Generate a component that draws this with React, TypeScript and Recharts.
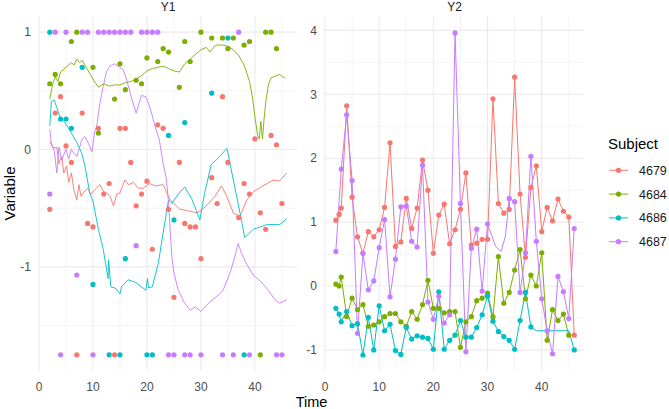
import React from 'react';
import { ComposedChart, Line, Scatter, XAxis, YAxis, CartesianGrid } from 'recharts';

const FONT = '"Liberation Sans", Arial, sans-serif';
const subjects = ['4679', '4684', '4686', '4687'];
const colors = ['#F8766D', '#7CAE00', '#00BFC4', '#C77CFF'];
const panelTitles = ['Y1', 'Y2'];
const xTicks = [0, 10, 20, 30, 40];
const xMinor = [5, 15, 25, 35, 45];
const xDomain = [0, 47.8];
const y1Ticks = [-1, 0, 1];
const y1Minor = [-1.5, -0.5, 0.5];
const y1Domain = [-1.8875, 1.1375];
const y2Ticks = [-1, 0, 1, 2, 3, 4];
const y2Minor = [-0.5, 0.5, 1.5, 2.5, 3.5];
const y2Domain = [-1.33, 4.225];

// ---------- Y1 points ----------
const y1Pts4679 = [[2,-0.51],[3,0.31],[4,0.45],[5,0.03],[6,-0.11],[7,-1.75],[8,0.31],[9,-0.63],[10,-0.66],[11,0.18],[12,-0.38],[13,-0.29],[14,-1.75],[15,0.18],[16,0.18],[17,-0.11],[18,-0.48],[19,-0.38],[20,-0.27],[21,-0.85],[22,0.21],[23,0.18],[24,-0.51],[25,-1.26],[26,-0.11],[27,-0.63],[28,-0.66],[29,-0.66],[30,-0.93],[32,-0.24],[33,-0.46],[34,0.45],[35,-0.11],[37,-0.58],[38,-0.29],[39,-0.38],[40,0.09],[41,-0.54],[42,-0.68],[43,0.12],[44,0.04],[45,-0.46]];
const y1Pts4684 = [[2,0.56],[3,0.64],[4,0.56],[6,0.92],[7,1],[10,0.70],[11,0.14],[14,0.43],[15,0.73],[16,0.51],[18,0.59],[19,0.56],[20,0.78],[22,0.75],[23,0.86],[24,0.83],[26,0.53],[27,0.92],[28,0.75],[30,1],[32,0.95],[34,0.95],[35,0.86],[36,0.95],[38,0.89],[39,0.92],[41,-1.75],[42,1],[43,1],[44,0.86]];
const y1Pts4686 = [[2,1],[4,0.26],[5,0.26],[6,0.18],[8,0.70],[10,-1.15],[13,-1.75],[15,-1.75],[16,-0.93],[20,-1.75],[21,-1.75],[24,0.12],[25,-0.60],[27,0.23],[32,0.48],[35,0.95],[38,-1.75]];
const y1Pts4687 = [[2,-0.38],[3,1],[4,-1.75],[5,1],[7,-1.07],[8,1],[9,1],[10,-1.75],[11,1],[12,1],[13,1],[14,1],[15,1],[16,1],[17,1],[18,-0.82],[19,1],[20,1],[21,1],[22,1],[24,-1.75],[25,-1.75],[27,-1.75],[28,-1.75],[30,-1.75],[34,-1.75],[36,-1.75],[37,1],[39,-1.75],[44,-1.75],[45,-1.75]];

// ---------- Y1 lines ----------
const y1Line4679 = [[2,0.07],[2.6,0.01],[3.3,0.02],[3.7,-0.12],[4.2,-0.06],[4.6,-0.2],[5.1,-0.14],[5.5,-0.28],[6,-0.2],[6.5,-0.35],[7,-0.43],[7.4,-0.30],[7.8,-0.40],[8.2,-0.37],[9,-0.33],[9.6,-0.38],[10.4,-0.34],[11.3,-0.30],[12,-0.36],[12.5,-0.37],[13.2,-0.40],[13.8,-0.48],[14.4,-0.38],[15,-0.37],[15.9,-0.26],[16.6,-0.30],[17.5,-0.28],[18.4,-0.33],[19.3,-0.33],[20.5,-0.29],[21.5,-0.31],[23,-0.30],[24.3,-0.43],[25,-0.46],[26.1,-0.51],[27.5,-0.52],[29.2,-0.54],[30,-0.52],[31,-0.48],[32.6,-0.40],[33.8,-0.31],[34.8,-0.40],[36,-0.54],[37.2,-0.57],[38.5,-0.43],[39.7,-0.36],[41.5,-0.31],[43.4,-0.26],[44.5,-0.27],[45.9,-0.2]];
const y1Line4684 = [[2,0.43],[2.5,0.55],[3,0.62],[3.5,0.58],[4,0.66],[5,0.70],[6,0.74],[6.5,0.72],[7,0.77],[7.5,0.74],[8,0.76],[9,0.68],[10,0.60],[11,0.53],[12,0.56],[13,0.54],[14,0.55],[15,0.55],[16,0.57],[17,0.58],[18,0.60],[19,0.63],[20,0.67],[21,0.69],[22,0.70],[23,0.71],[24,0.69],[25,0.67],[26,0.66],[27,0.73],[28,0.77],[29,0.81],[30,0.85],[31,0.87],[31.7,0.83],[32.5,0.88],[33,0.89],[34,0.89],[35,0.88],[36,0.85],[37,0.80],[38,0.72],[39,0.58],[39.5,0.46],[40,0.28],[40.5,0.12],[40.8,0.09],[41.1,0.24],[41.4,0.09],[41.7,0.26],[42,0.40],[42.5,0.55],[43,0.61],[44,0.63],[44.6,0.64],[45.1,0.62],[45.6,0.61]];
const y1Line4686 = [[2,0.2],[2.3,0.41],[2.8,0.42],[3.3,0.36],[3.9,0.27],[4.8,0.23],[6,0.14],[7,0.06],[7.9,-0.03],[8.5,-0.14],[9.4,-0.37],[10,-0.44],[11,-0.68],[11.9,-0.85],[12.8,-1.10],[12.9,-0.94],[13.3,-1.17],[14.1,-1.18],[15,-1.23],[15.3,-1.17],[16.5,-1.11],[17.8,-1.13],[19,-1.17],[19.8,-1.2],[20.1,-1.1],[20.3,-1.18],[21,-1.17],[22.1,-0.97],[23,-0.71],[23.6,-0.54],[24,-0.43],[24.6,-0.46],[25.8,-0.38],[27,-0.32],[28.3,-0.42],[29.8,-0.6],[30.7,-0.37],[31.9,-0.13],[33.5,-0.06],[34.8,0.01],[35,-0.03],[36,-0.26],[36.9,-0.46],[38.1,-0.75],[39.7,-0.68],[42.2,-0.64],[44.6,-0.64],[45.9,-0.59]];
const y1Line4687 = [[2,0.17],[2.3,0.05],[2.8,0.0],[3.3,-0.20],[3.7,0.02],[4.2,-0.09],[5,0.0],[5.5,-0.08],[6,0.0],[7,-0.06],[8,0.09],[8.5,0.11],[9.2,0.05],[9.8,-0.02],[10.3,0.15],[10.7,0.2],[11.3,0.40],[11.9,0.54],[12.5,0.66],[13.1,0.71],[14,0.73],[15,0.70],[15.6,0.68],[16.2,0.60],[17.2,0.43],[18,0.31],[19,0.46],[19.8,0.45],[20.6,0.35],[21.5,0.20],[22.3,0.08],[23,-0.12],[23.6,-0.25],[24,-0.45],[24.3,-0.68],[24.6,-0.91],[25,-1.05],[25.8,-1.2],[27,-1.31],[28,-1.37],[29,-1.34],[30,-1.38],[31.4,-1.31],[33.2,-1.24],[34.1,-1.2],[35.4,-1.05],[36.3,-0.91],[36.9,-0.80],[37.5,-0.88],[38.5,-0.98],[39.7,-1.07],[41.2,-1.13],[42.5,-1.2],[43.7,-1.28],[44.6,-1.31],[45.9,-1.28]];

// ---------- Y2 points ----------
const y2Pts4679 = [[2,1.03],[2.6,1.12],[3,1.22],[4,2.82],[5,1.39],[6,0.77],[7,0.51],[8,0.85],[9,0.77],[10,0.88],[11,1.23],[12,2.24],[13,0.62],[14,0.69],[15,1.37],[16,0.90],[17,1.22],[18,1.97],[19,1.50],[20,0.51],[21,1.11],[22,1.28],[23,0.66],[24,0.88],[25,1.2],[26,1.77],[27,0.64],[28,0.67],[29,0.73],[30,0.73],[31,2.93],[32,1.29],[33,1.14],[34,1.2],[35,3.27],[36,1.44],[37,0.45],[38,1.54],[39,1.88],[40,0.85],[41,1.23],[42,1.02],[43,1.36],[44,1.17],[45,1.08],[46,-0.77]];
const y2Pts4684 = [[2,0.03],[2.6,0.0],[3,0.14],[4,-0.48],[5,-0.19],[6,-0.37],[7,-0.29],[8,-0.63],[9,-0.61],[10,-0.56],[11,-0.48],[12,-0.43],[13,-0.43],[14,-0.56],[15,-0.63],[16,-0.40],[17,-0.52],[18,-0.29],[19,0.09],[20,-0.35],[21,-0.35],[22,-0.42],[23,-0.40],[24,-0.40],[25,-0.96],[26,-0.56],[27,-0.48],[28,-0.23],[29,-0.19],[30,-0.11],[31,-0.48],[32,0.46],[33,-0.27],[34,-0.10],[35,0.25],[36,0.57],[37,-0.2],[38,0.17],[39,0.0],[40,0.52],[41,-0.85],[42,-0.37],[43,-0.54],[44,-0.44],[45,-0.77]];
const y2Pts4686 = [[2,-0.35],[2.6,-0.44],[3,-0.56],[4,-0.40],[5,-0.62],[6,-0.59],[7,-1.08],[8,-0.49],[9,-1.0],[10,-0.31],[11,-0.70],[12,-0.6],[13,-1.01],[14,-1.07],[15,-0.65],[16,-0.83],[17,-0.78],[18,-0.80],[19,-0.82],[20,-0.99],[21,-0.09],[22,-0.99],[23,-0.85],[24,-0.77],[25,-0.54],[26,-0.80],[27,-0.80],[28,-0.65],[29,-0.45],[30,-0.16],[31,-0.55],[32,-0.71],[33,-0.79],[34,-0.85],[35,-0.99],[36,-0.54],[37,-0.10],[38,-0.64],[46,-1.0]];
const y2Pts4687 = [[2,0.54],[3,1.83],[4,2.68],[5,1.65],[6,-0.74],[7,0.51],[8,-0.06],[9,0.08],[10,0.60],[11,1.04],[12,-0.17],[13,0.42],[14,1.24],[15,1.25],[16,0.70],[17,0.61],[18,1.89],[19,-0.25],[20,-0.52],[21,-0.16],[22,-0.58],[23,-0.45],[24,3.96],[25,1.29],[26,-1.03],[27,0.59],[28,0.89],[29,-0.08],[30,0.97],[34,1.37],[35,1.32],[36,-0.10],[37,0.52],[38,2.03],[39,0.70],[40,-0.2],[41,-0.7],[42,-1.06],[43,0.15],[44,-0.09],[45,-0.51],[46,0.90]];

// ---------- Y2 extra line vertices (line passes through, no point drawn) ----------
const y2Extra4679: number[][] = [];
const y2Extra4684: number[][] = [];
const y2Extra4686 = [[39,-0.70],[45,-0.70]];
const y2Extra4687 = [[31.5,0.62],[32.5,0.54],[33.3,0.78]];

type P = { t: number; v: number };
const toPts = (a: number[][]): P[] => a.map(([t, v]) => ({ t, v }));
const merge = (a: number[][], b: number[][]): P[] =>
  toPts([...a, ...b].sort((p, q) => p[0] - q[0]));

const y1Points = [y1Pts4679, y1Pts4684, y1Pts4686, y1Pts4687].map(toPts);
const y1Lines = [y1Line4679, y1Line4684, y1Line4686, y1Line4687].map(toPts);
const y2Points = [y2Pts4679, y2Pts4684, y2Pts4686, y2Pts4687].map(toPts);
const y2Lines = [
  merge(y2Pts4679, y2Extra4679),
  merge(y2Pts4684, y2Extra4684),
  merge(y2Pts4686, y2Extra4686),
  merge(y2Pts4687, y2Extra4687),
];

const tickStyle = { fontSize: 12, fill: '#4d4d4d', fontFamily: FONT };

function Panel(props: any) {
  const { left, width, ml, mr, ylw, domain, ticks, minor, lines, points, lineOpacity } = props;
  return (
    <div style={{ position: 'absolute', left, top: 0 }}>
      <ComposedChart width={width} height={409} margin={{ top: 16, right: mr, bottom: 18, left: ml }}>
        <CartesianGrid stroke="#ebebeb" strokeWidth={0.55} horizontalValues={minor} verticalValues={xMinor} />
        <CartesianGrid stroke="#ebebeb" strokeWidth={1.1} horizontalValues={ticks} verticalValues={xTicks} />
        <XAxis type="number" dataKey="t" domain={xDomain} ticks={xTicks} allowDataOverflow interval={0}
          tickLine={false} axisLine={false} height={20} tickMargin={5} tick={tickStyle} />
        <YAxis type="number" dataKey="v" domain={domain} ticks={ticks} allowDataOverflow interval={0}
          tickLine={false} axisLine={false} width={ylw} tick={tickStyle} />
        {lines.map((d: P[], i: number) => (
          <Line key={'l' + i} data={d} dataKey="v" type="linear" stroke={colors[i]} strokeWidth={1}
            strokeOpacity={lineOpacity} dot={false} activeDot={false} isAnimationActive={false} />
        ))}
        {points.map((d: P[], i: number) => (
          <Scatter key={'p' + i} data={d} fill={colors[i]} isAnimationActive={false}
            shape={(s: any) => <circle cx={s.cx} cy={s.cy} r={2.6} fill={colors[i]} />} />
        ))}
      </ComposedChart>
    </div>
  );
}

export default function App() {
  return (
    <div style={{ position: 'absolute', left: 0, top: 0, width: 669, height: 409, background: '#fff', fontFamily: FONT }}>
      <Panel left={0} width={310} ml={9} mr={13} ylw={30} domain={y1Domain} ticks={y1Ticks} minor={y1Minor}
        lines={y1Lines} points={y1Points} lineOpacity={0.9} />
      <Panel left={300} width={300} ml={7} mr={16} ylw={18} domain={y2Domain} ticks={y2Ticks} minor={y2Minor}
        lines={y2Lines} points={y2Points} lineOpacity={1} />
      <svg width={669} height={409} style={{ position: 'absolute', left: 0, top: 0, pointerEvents: 'none' }}>
        <text x={168} y={11} textAnchor="middle" fontSize={12} fill="#1a1a1a" fontFamily={FONT}>{panelTitles[0]}</text>
        <text x={454.5} y={11} textAnchor="middle" fontSize={12} fill="#1a1a1a" fontFamily={FONT}>{panelTitles[1]}</text>
        <text x={15} y={193.5} textAnchor="middle" fontSize={15} fill="#000" fontFamily={FONT}
          transform="rotate(-90, 15, 193.5)">Variable</text>
        <text x={311.5} y={407} textAnchor="middle" fontSize={14.5} fill="#000" fontFamily={FONT}>Time</text>
        <text x={608} y={149} fontSize={15} fill="#000" fontFamily={FONT}>Subject</text>
        {subjects.map((s, i) => {
          const cy = 170.3 + i * 23.8;
          return (
            <g key={s}>
              <line x1={609} x2={628} y1={cy} y2={cy} stroke={colors[i]} strokeWidth={1} />
              <circle cx={618.5} cy={cy} r={2.6} fill={colors[i]} />
              <text x={639} y={cy + 4.5} fontSize={12.5} fill="#1a1a1a" fontFamily={FONT}>{s}</text>
            </g>
          );
        })}
      </svg>
    </div>
  );
}
